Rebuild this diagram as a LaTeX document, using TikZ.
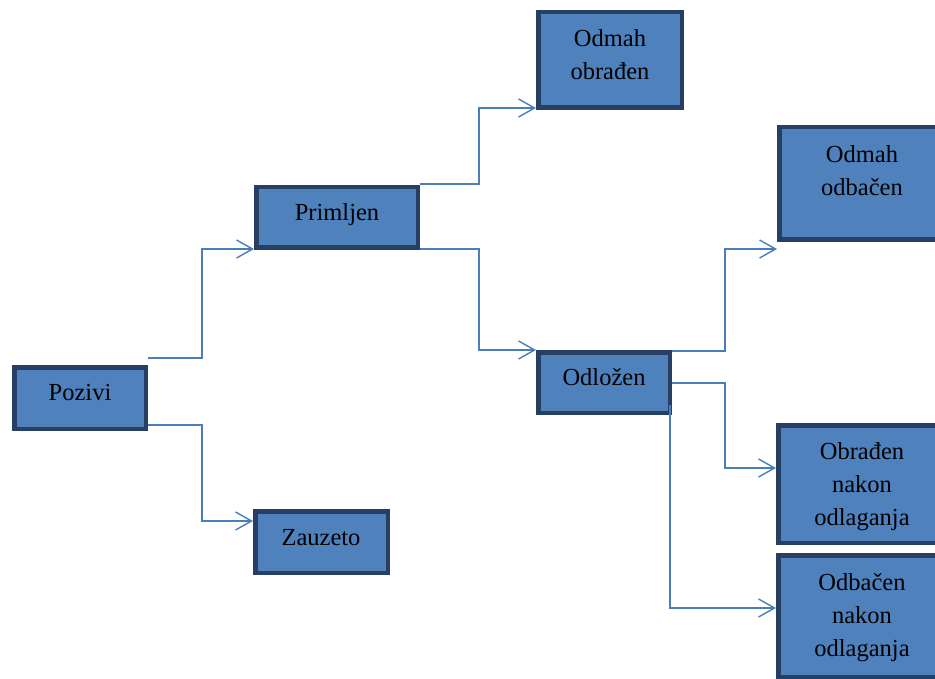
\documentclass[tikz,border=0pt]{standalone}
\usepackage{fontspec}
\setmainfont{Liberation Serif}
\usetikzlibrary{arrows.meta}
\definecolor{boxfill}{HTML}{4F81BD}
\definecolor{boxline}{HTML}{263F62}
\definecolor{conncol}{HTML}{4A7EBB}
\begin{document}
\begin{tikzpicture}[x=1pt,y=-1pt,
  boxnode/.style={draw=boxline, fill=boxfill, line width=4.5pt, inner sep=0pt, anchor=north west},
  txt/.style={font=\fontsize{24.5}{33}\selectfont, align=center, inner sep=0pt, text=black},
  conn/.style={draw=conncol, line width=1.4pt, -{Straight Barb[length=16pt,width=18pt]}}]
\useasboundingbox (0,0) rectangle (935,679);
\begin{scope}
\clip (0,0) rectangle (935,679);
% boxes
\node[boxnode, minimum width=131.5pt, minimum height=61.5pt] (poz) at (12,365) {};
\node[boxnode, minimum width=161.5pt, minimum height=60.5pt] (prim) at (254,185) {};
\node[boxnode, minimum width=132.5pt, minimum height=61.5pt] (zau) at (253,509) {};
\node[boxnode, minimum width=143.5pt, minimum height=95.5pt] (oob) at (536,10) {};
\node[boxnode, minimum width=131.5pt, minimum height=60.5pt] (odl) at (536,350) {};
\node[boxnode, minimum width=200pt, minimum height=112.5pt] (oodb) at (777,125) {};
\node[boxnode, minimum width=200pt, minimum height=117.5pt] (onak) at (776,423) {};
\node[boxnode, minimum width=200pt, minimum height=121.5pt] (odbn) at (776,553) {};
\end{scope}
% texts
\node[txt] (tpoz) at (80,394) {\strut Pozivi};
\node[txt] (tprim) at (337,214) {\strut Primljen};
\node[txt] (tzau) at (321,539) {\strut Zauzeto};
\node[txt] (toob) at (610,56) {\strut Odmah\\\strut obrađen};
\node[txt] (todl) at (604,379) {\strut Odložen};
\node[txt] (toodb) at (862,172) {\strut Odmah\\\strut odbačen};
\node[txt] (tonak) at (862,486) {\strut Obrađen\\\strut nakon\\\strut odlaganja};
\node[txt] (todbn) at (862,617) {\strut Odbačen\\\strut nakon\\\strut odlaganja};
% connectors
\draw[conn] (poz.east |- 0,358) -- (202,358) |- (prim.west |- 0,249);
\draw[conn] (poz.east |- 0,425) -- (202,425) |- (zau.west |- 0,521);
\draw[conn] (prim.east |- 0,184) -- (479,184) |- (oob.west |- 0,108);
\draw[conn] (prim.east |- 0,249) -- (479,249) |- (odl.west |- 0,350);
\draw[conn] (odl.east |- 0,351) -- (725,351) |- (oodb.west |- 0,249);
\draw[conn] (odl.east |- 0,383) -- (725,383) |- (onak.west |- 0,468);
\coordinate (s7) at (670,405);
\draw[conn] (s7) |- (odbn.west |- 0,608);
\end{tikzpicture}
\end{document}
